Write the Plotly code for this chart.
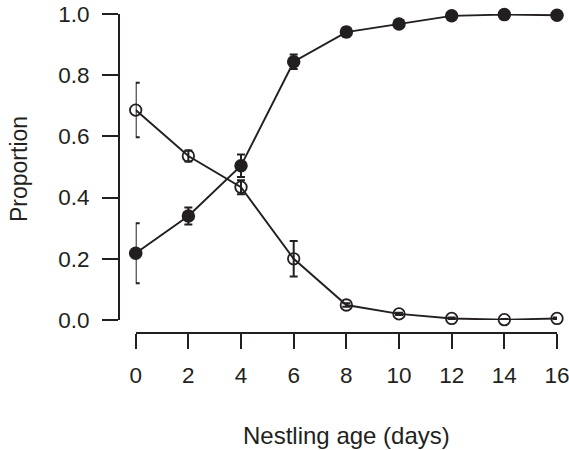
import plotly.graph_objects as go

days = [0, 2, 4, 6, 8, 10, 12, 14, 16]

filled = [0.218, 0.340, 0.504, 0.844, 0.941, 0.967, 0.994, 0.998, 0.996]
filled_err = [0.098, 0.028, 0.037, 0.024, 0.015, 0.006, 0.004, 0.002, 0.003]

opened = [0.686, 0.536, 0.434, 0.200, 0.049, 0.020, 0.005, 0.001, 0.005]
opened_err = [0.089, 0.018, 0.023, 0.058, 0.006, 0.004, 0.003, 0.002, 0.003]

x_ticks = [0, 2, 4, 6, 8, 10, 12, 14, 16]
y_ticks = [0.0, 0.2, 0.4, 0.6, 0.8, 1.0]
y_tick_labels = ["0.0", "0.2", "0.4", "0.6", "0.8", "1.0"]

ink = "#231f20"
family = "Liberation Sans, Arial, sans-serif"
font = dict(family=family, size=22.5, color=ink)

fig = go.Figure()
fig.add_trace(go.Scatter(
    x=days, y=opened, mode="lines+markers",
    line=dict(color=ink, width=1.9),
    marker=dict(symbol="circle-open", size=11.5, color=ink, line=dict(width=1.8, color=ink)),
    error_y=dict(type="data", array=opened_err, color=ink, thickness=2, width=4),
    cliponaxis=False, showlegend=False,
))
fig.add_trace(go.Scatter(
    x=days, y=filled, mode="lines+markers",
    line=dict(color=ink, width=1.9),
    marker=dict(symbol="circle", size=13.5, color=ink),
    error_y=dict(type="data", array=filled_err, color=ink, thickness=2, width=4),
    cliponaxis=False, showlegend=False,
))

W, H = 569, 450
ml, mr, mt, mb = 100, 2, 2, 100
pw = W - ml - mr
ph = H - mt - mb

def px_x(p):
    return (p - ml) / pw

def px_y(p):
    return (H - mb - p) / ph

fig.update_layout(
    width=W, height=H,
    margin=dict(l=ml, r=mr, t=mt, b=mb),
    paper_bgcolor="white", plot_bgcolor="white",
    font=font,
    xaxis=dict(
        range=[0, 16], domain=[px_x(135.7), px_x(557)],
        anchor="free", position=px_y(332.5),
        tickmode="array", tickvals=x_ticks, ticktext=[str(v) for v in x_ticks],
        ticks="outside", ticklen=15, tickwidth=2, tickcolor=ink,
        showline=True, linewidth=2, linecolor=ink,
        showgrid=False, zeroline=False, ticklabelstandoff=7,
        ticklabeloverflow="allow", automargin=False,
    ),
    yaxis=dict(
        range=[0, 1], domain=[px_y(320), px_y(14)],
        anchor="free", position=px_x(119),
        tickmode="array", tickvals=y_ticks, ticktext=y_tick_labels,
        ticks="outside", ticklen=16, tickwidth=2, tickcolor=ink,
        showline=True, linewidth=2, linecolor=ink,
        showgrid=False, zeroline=False, ticklabelstandoff=8,
        ticklabeloverflow="allow", automargin=False,
    ),
    annotations=[
        dict(text="Nestling age (days)", xref="paper", yref="paper",
             x=px_x(346), y=px_y(435), xanchor="center", yanchor="middle",
             showarrow=False, font=dict(family=family, size=24, color=ink)),
        dict(text="Proportion", xref="paper", yref="paper",
             x=px_x(19), y=px_y(169), xanchor="center", yanchor="middle",
             textangle=-90, showarrow=False, font=dict(family=family, size=23, color=ink)),
    ],
)

fig.write_html("out.html", config={"displayModeBar": False},
               post_script="document.body.style.margin='0px';")
